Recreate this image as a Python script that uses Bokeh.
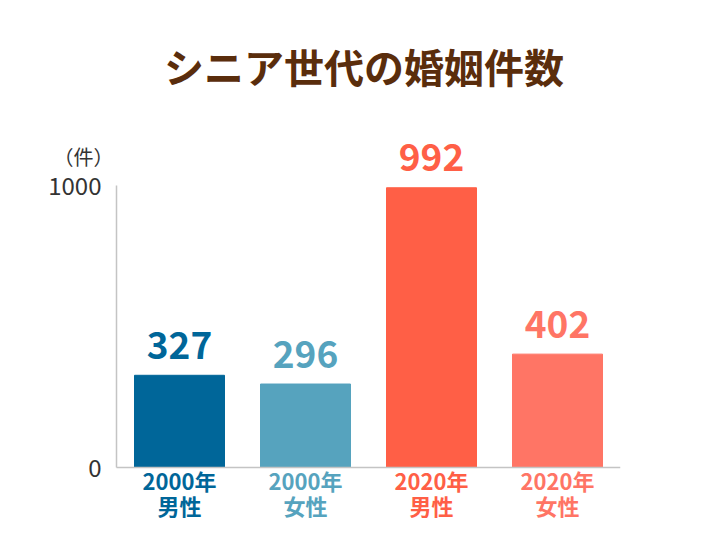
from bokeh.plotting import figure
from bokeh.models import Range1d, FixedTicker, ColumnDataSource
from bokeh.core.properties import value
from bokeh.embed import file_html
from bokeh.resources import INLINE

title = "シニア世代の婚姻件数"
categories = ["2000年\n男性", "2000年\n女性", "2020年\n男性", "2020年\n女性"]
counts = [327, 296, 992, 402]
colors = ["#006699", "#56a3be", "#ff5f46", "#ff7565"]
unit_label = "（件）"
y_ticks = [0, 1000]

FONT = "Noto Sans CJK JP"
W, H = 720, 540
FRAME_L, AXIS_X, FRAME_R = 36, 116, 620   # page pixels
SLOT = (FRAME_R - AXIS_X) / len(categories)  # pixels per category
Y0_PX, Y1000_PX = 467, 185                # page pixels for values 0 and 1000
scale = (Y0_PX - Y1000_PX) / 1000.0

def px_to_y(py):
    return (Y0_PX - py) / scale

def px_to_x(px):
    return (px - AXIS_X) / SLOT

p = figure(width=W, height=H,
           x_range=Range1d(px_to_x(FRAME_L), px_to_x(FRAME_R)),
           y_range=Range1d(px_to_y(H), px_to_y(0)),
           output_backend="svg", toolbar_location=None,
           x_axis_location=None, title=None,
           min_border_left=FRAME_L, min_border_right=W - FRAME_R,
           min_border_top=0, min_border_bottom=0)
p.outline_line_color = None
p.xgrid.visible = False
p.ygrid.visible = False
p.background_fill_color = "white"
p.border_fill_color = "white"

ax = p.yaxis[0]
ax.fixed_location = 0
ax.ticker = FixedTicker(ticks=y_ticks)
ax.bounds = (0, 1000)
ax.major_tick_line_color = None
ax.minor_tick_line_color = None
ax.axis_line_color = "#c4c4c4"
ax.axis_line_width = 1.5
ax.major_label_text_font = FONT
ax.major_label_text_font_size = "24px"
ax.major_label_text_color = "#333333"
ax.major_label_standoff = 9

xs = [i + 0.5 for i in range(len(categories))]
src = ColumnDataSource(dict(
    x=xs, count=counts, color=colors,
    label=[str(c) for c in counts],
    line1=[c.split("\n")[0] for c in categories],
    line2=[c.split("\n")[1] for c in categories],
    ly=[c + 30 / scale for c in counts],
    y1=[px_to_y(479)] * len(categories),
    y2=[px_to_y(504)] * len(categories),
))

p.vbar(x="x", top="count", bottom=0, width=90 / SLOT, color="color", source=src)

p.segment(x0=[0], y0=[0], x1=[len(categories)], y1=[0], line_color="#c4c4c4", line_width=1.5)

p.text(x="x", y="ly", text="label", text_color="color", text_font=value(FONT),
       text_font_style="bold", text_font_size="37px", text_align="center",
       text_baseline="middle", source=src)

for col in ("1", "2"):
    p.text(x="x", y="y" + col, text="line" + col, text_color="color", text_font=value(FONT),
           text_font_style="bold", text_font_size="22px", text_align="center",
           text_baseline="middle", source=src)

p.text(x=[px_to_x(363.5)], y=[px_to_y(65)], text=[title], text_color="#5a2d0c",
       text_font=value(FONT), text_font_style="bold", text_font_size="40px",
       text_align="center", text_baseline="middle")

p.text(x=[px_to_x(83)], y=[px_to_y(156)], text=[unit_label], text_color="#333333",
       text_font=value(FONT), text_font_size="20px",
       text_align="center", text_baseline="middle")

open("out.html", "w").write(file_html(p, INLINE))
